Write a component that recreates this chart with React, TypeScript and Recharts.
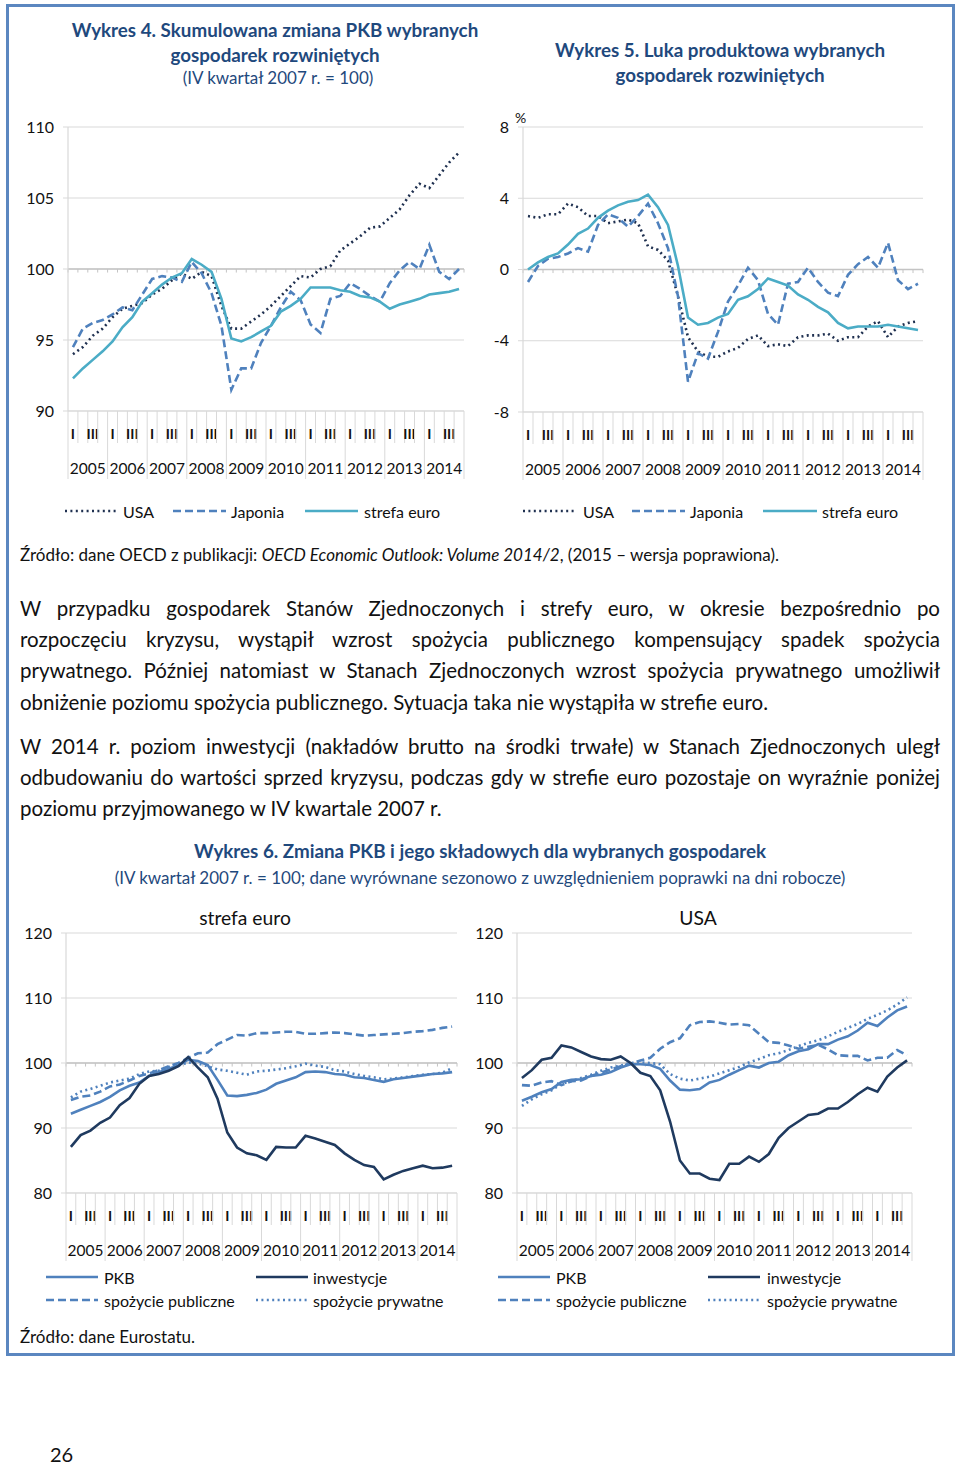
import React from 'react';
import { LineChart, Line, XAxis, YAxis, CartesianGrid, ReferenceLine } from 'recharts';

const FONT = 'Lato, "Open Sans", sans-serif';
const TITLE_BLUE = '#1F497D';
const GRID = '#D9D9D9';

const years = ['2005', '2006', '2007', '2008', '2009', '2010', '2011', '2012', '2013', '2014'];
const quarterNames = ['I', '', 'III', ''];

// Wykres 4: cumulative GDP change (IV q 2007 = 100)
const w4Usa = [94.0, 94.5, 95.3, 95.8, 96.6, 97.2, 97.4, 97.6, 98.2, 98.6, 99.2, 99.7, 99.3, 99.8, 99.5, 97.4, 95.8, 95.8, 96.3, 96.8, 97.4, 98.1, 98.8, 99.5, 99.4, 100.0, 100.2, 101.3, 101.8, 102.3, 102.9, 103.0, 103.6, 104.2, 105.2, 106.0, 105.7, 106.6, 107.5, 108.2];
const w4Japan = [94.5, 95.8, 96.2, 96.4, 96.8, 97.3, 97.1, 98.2, 99.3, 99.5, 99.4, 99.1, 100.5, 99.7, 98.3, 96.0, 91.5, 93.0, 93.0, 94.8, 96.0, 97.3, 98.4, 97.8, 96.1, 95.5, 97.9, 98.1, 99.0, 98.6, 98.1, 97.7, 99.0, 99.9, 100.5, 100.0, 101.7, 99.8, 99.3, 100.0];
const w4Euro = [92.3, 93.0, 93.6, 94.2, 94.9, 95.9, 96.6, 97.7, 98.3, 98.9, 99.4, 99.7, 100.7, 100.3, 99.8, 97.9, 95.1, 94.9, 95.2, 95.6, 96.0, 97.0, 97.4, 97.9, 98.7, 98.7, 98.7, 98.5, 98.4, 98.1, 98.0, 97.7, 97.2, 97.5, 97.7, 97.9, 98.2, 98.3, 98.4, 98.6];

// Wykres 5: output gap (%)
const w5Usa = [3.0, 2.9, 3.1, 3.1, 3.7, 3.5, 3.0, 3.0, 2.6, 2.7, 2.8, 2.6, 1.3, 1.1, 0.5, -1.5, -3.8, -4.6, -4.9, -4.9, -4.6, -4.4, -3.9, -3.7, -4.3, -4.2, -4.3, -3.8, -3.7, -3.7, -3.6, -4.0, -3.8, -3.8, -3.2, -2.9, -3.8, -3.2, -3.0, -2.9];
const w5Japan = [-0.7, 0.2, 0.6, 0.7, 0.9, 1.2, 1.0, 2.5, 3.1, 2.9, 2.4, 3.0, 3.7, 2.6, 1.2, -1.5, -6.3, -4.7, -5.0, -3.5, -1.8, -0.9, 0.1, -0.6, -2.5, -3.1, -0.8, -0.7, 0.1, -0.7, -1.3, -1.5, -0.3, 0.3, 0.7, 0.1, 1.5, -0.6, -1.1, -0.8];
const w5Euro = [0.0, 0.4, 0.7, 0.9, 1.4, 2.0, 2.3, 2.9, 3.3, 3.6, 3.8, 3.9, 4.2, 3.5, 2.5, 0.2, -2.7, -3.1, -3.0, -2.7, -2.5, -1.7, -1.5, -1.1, -0.5, -0.7, -0.9, -1.4, -1.7, -2.1, -2.4, -3.0, -3.3, -3.2, -3.2, -3.2, -3.1, -3.2, -3.3, -3.4];

// Wykres 6: strefa euro
const w6EuPkb = [92.2, 92.8, 93.4, 94.0, 94.8, 95.8, 96.5, 97.0, 98.0, 98.6, 99.1, 99.6, 100.5, 100.3, 99.7, 97.4, 95.0, 94.9, 95.1, 95.4, 95.9, 96.8, 97.3, 97.8, 98.6, 98.7, 98.6, 98.3, 98.2, 97.8, 97.7, 97.4, 97.1, 97.5, 97.7, 97.9, 98.1, 98.3, 98.4, 98.6];
const w6EuInv = [87.1, 88.9, 89.6, 90.8, 91.6, 93.5, 94.6, 96.8, 98.0, 98.3, 98.8, 99.5, 100.9, 99.3, 97.8, 94.5, 89.3, 87.0, 86.1, 85.8, 85.1, 87.1, 87.0, 87.0, 88.8, 88.4, 87.9, 87.4, 86.1, 85.1, 84.3, 84.0, 82.1, 82.8, 83.4, 83.8, 84.2, 83.8, 83.9, 84.2];
const w6EuPub = [94.3, 94.8, 95.0, 95.6, 96.4, 96.7, 97.3, 98.0, 98.4, 98.9, 99.5, 100.0, 100.8, 101.5, 101.6, 102.9, 103.6, 104.3, 104.2, 104.6, 104.6, 104.7, 104.8, 104.8, 104.5, 104.5, 104.6, 104.7, 104.6, 104.4, 104.2, 104.3, 104.4, 104.5, 104.6, 104.8, 104.9, 105.1, 105.4, 105.6];
const w6EuPriv = [94.7, 95.6, 96.0, 96.5, 97.0, 97.3, 97.6, 98.3, 98.7, 98.8, 99.4, 99.6, 100.1, 99.9, 99.5, 99.0, 98.8, 98.5, 98.2, 98.7, 98.8, 99.0, 99.2, 99.5, 99.9, 99.6, 99.4, 98.9, 98.7, 98.3, 98.0, 97.8, 97.5, 97.6, 97.8, 98.0, 98.2, 98.3, 98.5, 99.2];

// Wykres 6: USA
const w6UsPkb = [94.2, 94.8, 95.5, 96.0, 97.1, 97.4, 97.5, 98.0, 98.2, 98.6, 99.3, 99.8, 99.8, 99.7, 99.1, 97.3, 95.9, 95.8, 96.0, 97.0, 97.4, 98.2, 98.9, 99.6, 99.3, 100.0, 100.2, 101.2, 101.8, 102.1, 102.9, 102.9, 103.6, 104.1, 105.0, 106.2, 105.7, 107.0, 108.1, 108.7];
const w6UsInv = [97.7, 98.9, 100.5, 100.8, 102.7, 102.4, 101.7, 101.0, 100.6, 100.5, 101.0, 100.0, 98.5, 98.0, 95.8, 91.0, 85.0, 83.0, 83.0, 82.2, 82.0, 84.5, 84.5, 85.6, 84.8, 86.0, 88.5, 90.0, 91.0, 92.0, 92.2, 93.0, 93.0, 94.0, 95.2, 96.2, 95.6, 97.9, 99.3, 100.4];
const w6UsPub = [96.6, 96.5, 97.0, 97.2, 96.6, 97.2, 97.3, 98.0, 98.5, 99.0, 99.5, 99.9, 100.4, 100.8, 102.2, 103.2, 103.8, 105.8, 106.3, 106.4, 106.2, 105.9, 106.0, 105.8, 104.5, 103.2, 103.1, 102.7, 102.2, 102.5, 102.8, 102.1, 101.2, 101.1, 101.1, 100.4, 100.8, 100.8, 102.0, 101.2];
const w6UsPriv = [93.4, 94.4, 95.2, 95.8, 96.8, 97.2, 97.7, 98.2, 98.8, 99.3, 99.6, 100.0, 100.1, 100.0, 99.8, 98.3, 97.6, 97.3, 97.6, 97.9, 98.4, 98.9, 99.4, 100.1, 100.6, 101.2, 101.5, 102.0, 102.6, 103.1, 103.5, 104.1, 104.8, 105.4, 106.0, 106.8, 107.4, 108.1, 109.0, 110.1];

const buildRows = (series: Record<string, number[]>) => {
  const keys = Object.keys(series);
  const n = series[keys[0]].length;
  const rows: any[] = [];
  for (let i = 0; i < n; i++) {
    const r: any = { x: i + 0.5 };
    keys.forEach((k) => (r[k] = series[k][i]));
    rows.push(r);
  }
  return rows;
};

const rows4 = buildRows({ usa: w4Usa, jap: w4Japan, euro: w4Euro });
const rows5 = buildRows({ usa: w5Usa, jap: w5Japan, euro: w5Euro });
const rows6eu = buildRows({ pkb: w6EuPkb, inv: w6EuInv, pub: w6EuPub, priv: w6EuPriv });
const rows6us = buildRows({ pkb: w6UsPkb, inv: w6UsInv, pub: w6UsPub, priv: w6UsPriv });

const catTicks = Array.from({ length: 81 }, (_, k) => k / 2);
const boundaries = Array.from({ length: 41 }, (_, k) => k);

const CatTick = (props: any) => {
  const { x, y, payload } = props;
  const v = payload.value as number;
  const els: any[] = [];
  if (Number.isInteger(v)) {
    els.push(<line key="l" x1={x} x2={x} y1={y} y2={y + (v % 4 === 0 ? 68 : 32)} stroke={GRID} strokeWidth={1} />);
    if (v % 4 === 2) {
      els.push(
        <text key="t" x={x} y={y + 57} textAnchor="middle" dominantBaseline="central" fontSize={15.5} fill="#111" fontFamily={FONT}>
          {years[(v - 2) / 4]}
        </text>
      );
    }
  } else {
    const label = quarterNames[(v - 0.5) % 4];
    if (label) {
      els.push(
        <text key="q" x={x} y={y + 22} textAnchor="middle" dominantBaseline="central" fontSize={14} fontWeight={700} fill="#111" fontFamily={FONT}>
          {label}
        </text>
      );
    }
  }
  return <g opacity={0.999}>{els}</g>;
};

const DOT = '2 3.4';
const DASH = '8 4';

type SeriesDef = { key: string; color: string; dash?: string };

const QChart = (p: {
  left: number; top: number; width: number; height: number; plotH: number;
  margin: any; yWidth: number; domain: [number, number]; ticks: number[];
  cross: number; crossTick: number; data: any[]; series: SeriesDef[];
}) => (
  <div style={{ position: 'absolute', left: p.left, top: p.top, width: p.width, height: p.height }}>
    <LineChart width={p.width} height={p.height} data={p.data} margin={p.margin}>
      <CartesianGrid vertical={false} stroke={GRID} strokeWidth={1.2} />
      <XAxis
        dataKey="x" type="number" domain={[0, 40]} ticks={catTicks} interval={0}
        allowDataOverflow tickSize={0} tickMargin={0} tickLine={false}
        axisLine={{ stroke: GRID }} tick={<CatTick />} height={p.height - p.margin.top - p.margin.bottom - p.plotH}
      />
      <YAxis
        type="number" domain={p.domain} ticks={p.ticks} width={p.yWidth} interval={0}
        tickSize={5} tickMargin={9} tickLine={{ stroke: GRID }} axisLine={{ stroke: GRID, strokeWidth: 1.2 }}
        tick={{ fontSize: 16, fill: '#111', fontFamily: FONT }}
      />
      <ReferenceLine y={p.cross} stroke="#C4C4C4" strokeWidth={1.3} />
      {boundaries.map((b) => (
        <ReferenceLine key={'b' + b} segment={[{ x: b, y: p.cross }, { x: b, y: p.cross - p.crossTick }]} stroke="#C4C4C4" strokeWidth={1} />
      ))}
      {p.series.map((s) => (
        <Line
          key={s.key} type="linear" dataKey={s.key} stroke={s.color} strokeWidth={2.6}
          strokeDasharray={s.dash} dot={false} activeDot={false} isAnimationActive={false}
        />
      ))}
    </LineChart>
  </div>
);

const Txt = (p: { x: number; y: number; size?: number; bold?: boolean; color?: string; align?: 'left' | 'center'; children: any }) => {
  const size = p.size ?? 16;
  const h = Math.round(size * 1.3);
  const style: any = {
    position: 'absolute', top: p.y - h / 2, height: h, lineHeight: h + 'px', fontSize: size,
    fontWeight: p.bold ? 700 : 400, color: p.color ?? '#111', fontFamily: FONT, whiteSpace: 'nowrap',
  };
  if (p.align === 'center') {
    style.left = p.x - 500; style.width = 1000; style.textAlign = 'center';
  } else {
    style.left = p.x;
  }
  return <div style={style}>{p.children}</div>;
};

const LegItem = (p: { x1: number; x2: number; y: number; tx: number; label: string; color: string; dash?: string; size?: number }) => (
  <>
    <svg style={{ position: 'absolute', left: p.x1, top: p.y - 4 }} width={p.x2 - p.x1} height={8}>
      <line x1={0} x2={p.x2 - p.x1} y1={4} y2={4} stroke={p.color} strokeWidth={2.6} strokeDasharray={p.dash} />
    </svg>
    <Txt x={p.tx} y={p.y} size={p.size ?? 16}>{p.label}</Txt>
  </>
);

const PLine = (p: { y: number; last?: boolean; children: any }) => (
  <div
    style={{
      position: 'absolute', left: 20, width: 920, top: p.y - 16, height: 32, lineHeight: '32px',
      fontSize: 20.5, fontFamily: FONT, color: '#111', textAlign: 'justify', whiteSpace: 'nowrap',
      textAlignLast: p.last ? 'left' : 'justify',
    } as any}
  >
    {p.children}
  </div>
);

const C_TEAL = '#4BACC6';
const C_BLUE = '#4F81BD';
const C_DARK = '#1F3050';
const C_NAVY = '#1F3A5F';

export default function App() {
  const topSeries: SeriesDef[] = [
    { key: 'usa', color: C_DARK, dash: DOT },
    { key: 'jap', color: C_BLUE, dash: DASH },
    { key: 'euro', color: C_TEAL },
  ];
  const botSeries: SeriesDef[] = [
    { key: 'pub', color: C_BLUE, dash: DASH },
    { key: 'priv', color: C_BLUE, dash: DOT },
    { key: 'pkb', color: C_BLUE },
    { key: 'inv', color: C_NAVY },
  ];
  const T = 18.8;
  return (
    <div style={{ position: 'absolute', left: 0, top: 0, width: 960, height: 1466, overflow: 'hidden', background: '#fff' }}>
      <div style={{ position: 'absolute', left: 6, top: 4, width: 943, height: 1346, border: '3px solid #5B87C0' }} />

      <Txt x={275} y={30} size={T} bold color={TITLE_BLUE} align="center">Wykres 4. Skumulowana zmiana PKB wybranych</Txt>
      <Txt x={275} y={55} size={T} bold color={TITLE_BLUE} align="center">gospodarek rozwiniętych</Txt>
      <Txt x={278} y={78} size={17} color={TITLE_BLUE} align="center">(IV kwartał 2007 r.  = 100)</Txt>
      <Txt x={720} y={50} size={T} bold color={TITLE_BLUE} align="center">Wykres 5. Luka produktowa wybranych</Txt>
      <Txt x={720} y={75} size={T} bold color={TITLE_BLUE} align="center">gospodarek rozwiniętych</Txt>

      <QChart plotH={284} left={0} top={100} width={480} height={400}
        margin={{ top: 27, right: 16, left: 0, bottom: 0 }} yWidth={68}
        domain={[90, 110]} ticks={[90, 95, 100, 105, 110]} cross={100} crossTick={0.25}
        data={rows4} series={topSeries} />
      <QChart plotH={285} left={480} top={100} width={460} height={400}
        margin={{ top: 27, right: 17, left: 0, bottom: 0 }} yWidth={43}
        domain={[-8, 8]} ticks={[-8, -4, 0, 4, 8]} cross={0} crossTick={0.2}
        data={rows5} series={topSeries} />
      <Txt x={515} y={118} size={14}>%</Txt>

      <LegItem x1={65} x2={117} y={511} tx={123} label="USA" color={C_DARK} dash={DOT} />
      <LegItem x1={173} x2={226} y={511} tx={231} label="Japonia" color={C_BLUE} dash={DASH} />
      <LegItem x1={305} x2={358} y={511} tx={364} label="strefa euro" color={C_TEAL} />
      <LegItem x1={523} x2={577} y={511} tx={583} label="USA" color={C_DARK} dash={DOT} />
      <LegItem x1={632} x2={685} y={511} tx={690} label="Japonia" color={C_BLUE} dash={DASH} />
      <LegItem x1={763} x2={817} y={511} tx={822} label="strefa euro" color={C_TEAL} />

      <Txt x={20} y={555} size={17}>
        Źródło: dane OECD z publikacji: <i>OECD Economic Outlook: Volume 2014/2</i>, (2015 – wersja poprawiona).
      </Txt>

      <PLine y={608}>W przypadku gospodarek Stanów Zjednoczonych i strefy euro, w okresie bezpośrednio po</PLine>
      <PLine y={639}>rozpoczęciu kryzysu, wystąpił wzrost spożycia publicznego kompensujący spadek spożycia</PLine>
      <PLine y={670}>prywatnego. Później natomiast w Stanach Zjednoczonych wzrost spożycia prywatnego umożliwił</PLine>
      <PLine y={702} last>obniżenie poziomu spożycia publicznego. Sytuacja taka nie wystąpiła w strefie euro.</PLine>
      <PLine y={746}>W 2014 r. poziom inwestycji (nakładów brutto na środki trwałe) w Stanach Zjednoczonych uległ</PLine>
      <PLine y={777}>odbudowaniu do wartości sprzed kryzysu, podczas gdy w strefie euro pozostaje on wyraźnie poniżej</PLine>
      <PLine y={808} last>poziomu przyjmowanego w IV kwartale 2007 r.</PLine>

      <Txt x={480} y={851} size={T} bold color={TITLE_BLUE} align="center">Wykres 6. Zmiana PKB i jego składowych dla wybranych gospodarek</Txt>
      <Txt x={480} y={878} size={17} color={TITLE_BLUE} align="center">(IV kwartał 2007 r. = 100; dane wyrównane sezonowo z uwzględnieniem poprawki na dni robocze)</Txt>

      <Txt x={245} y={917} size={19.3} align="center">strefa euro</Txt>
      <Txt x={698} y={917} size={19.3} align="center">USA</Txt>

      <QChart plotH={260} left={0} top={895} width={470} height={370}
        margin={{ top: 38, right: 13, left: 0, bottom: 0 }} yWidth={66}
        domain={[80, 120]} ticks={[80, 90, 100, 110, 120]} cross={100} crossTick={0.55}
        data={rows6eu} series={botSeries} />
      <QChart plotH={260} left={470} top={895} width={460} height={370}
        margin={{ top: 38, right: 18, left: 0, bottom: 0 }} yWidth={47}
        domain={[80, 120]} ticks={[80, 90, 100, 110, 120]} cross={100} crossTick={0.55}
        data={rows6us} series={botSeries} />

      <LegItem x1={46} x2={98} y={1277} tx={104} label="PKB" color={C_BLUE} />
      <LegItem x1={256} x2={308} y={1277} tx={313} label="inwestycje" color={C_NAVY} />
      <LegItem x1={46} x2={98} y={1300} tx={104} label="spożycie publiczne" color={C_BLUE} dash={DASH} />
      <LegItem x1={256} x2={308} y={1300} tx={313} label="spożycie prywatne" color={C_BLUE} dash={DOT} />
      <LegItem x1={498} x2={550} y={1277} tx={556} label="PKB" color={C_BLUE} />
      <LegItem x1={708} x2={760} y={1277} tx={767} label="inwestycje" color={C_NAVY} />
      <LegItem x1={498} x2={550} y={1300} tx={556} label="spożycie publiczne" color={C_BLUE} dash={DASH} />
      <LegItem x1={708} x2={760} y={1300} tx={767} label="spożycie prywatne" color={C_BLUE} dash={DOT} />

      <Txt x={20} y={1337} size={17}>Źródło: dane Eurostatu.</Txt>
      <Txt x={50} y={1454} size={20}>26</Txt>
    </div>
  );
}
